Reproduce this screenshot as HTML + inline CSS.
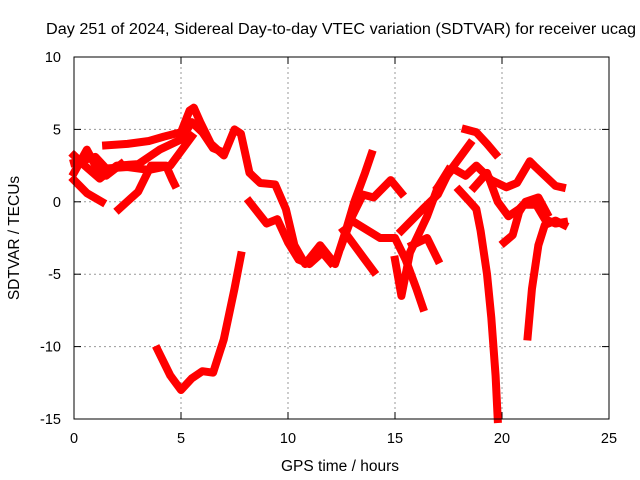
<!DOCTYPE html>
<html><head><meta charset="utf-8"><style>
body{margin:0;background:#fff}
svg{display:block;font-family:"Liberation Sans",sans-serif}
</style></head><body>
<svg id="chart" width="640" height="480" viewBox="0 0 640 480">
<rect width="640" height="480" fill="#fff"/>
<text x="46" y="34" font-size="15.5" textLength="590" lengthAdjust="spacingAndGlyphs" fill="#000">Day 251 of 2024, Sidereal Day-to-day VTEC variation (SDTVAR) for receiver ucag</text>
<text x="340" y="471" font-size="15.5" text-anchor="middle">GPS time / hours</text>
<text transform="translate(19,238) rotate(-90)" font-size="15.5" text-anchor="middle">SDTVAR / TECUs</text>
<g id="grid"></g><g id="ticks"></g><g id="series"></g>
<rect x="74" y="57" width="535" height="362" fill="none" stroke="#000" stroke-width="1"/>
</svg>
<script>
const xTicks=[0,5,10,15,20,25];
const yTicks=[10,5,0,-5,-10,-15];
const trackA=[[1.5,3.9],[2.5,4],[3.5,4.2],[4.2,4.5],[5,4.8],[5.4,6.3],[5.6,6.5],[5.9,5.5],[6.4,4],[7,3.2],[7.5,5],[7.8,4.7],[8.2,2],[8.7,1.3],[9.4,1.2],[9.9,-0.5],[10.3,-3],[10.8,-4.3],[11.5,-3],[12.2,-4.3],[12.7,-2],[13.1,0],[13.6,2],[13.9,3.3]];
const trackB=[[0,3.2],[0.5,2.5],[1.2,1.6],[2,2.5],[3,2.6],[4,3.6],[5,4.3],[5.5,5.5],[6,4.8],[6.5,3.7],[7,3.4]];
const trackC=[[0,2.7],[1,3.1],[1.5,2.3],[2.5,2.4],[3.5,2.2],[4.5,2.5],[5,3.5],[5.5,4.5]];
const trackD=[[0,1.5],[0.6,0.6],[1.3,0]];
const trackE=[[2.1,-0.5],[3,0.7],[3.6,2.5],[4.3,2.5],[4.6,1.5],[4.7,1.2]];
const trackF=[[0,2],[0.6,3.6],[1,2.5],[1.5,1.8],[2.2,2.6]];
const trackG=[[3.9,-10.2],[4.5,-12],[5,-13],[5.5,-12.2],[6,-11.7],[6.5,-11.8],[7,-9.5],[7.5,-6],[7.8,-3.7]];
const trackH=[[8.2,0],[9,-1.5],[9.5,-1.2],[10,-2.8],[10.5,-4],[11,-4.3],[11.6,-3.5],[12,-4.2]];
const trackI=[[12.5,-3],[13,-1],[13.5,0.5],[14,0.3],[14.8,1.5],[15.3,0.6]];
const trackJ=[[12.6,-2],[13.5,-3.8],[14,-4.8]];
const trackK=[[13.2,-1.5],[14.3,-2.5],[15,-2.5],[15.5,-4],[16,-6],[16.3,-7.3]];
const trackL=[[15,-4],[15.3,-6.5],[15.7,-3.5],[16.5,-1],[17,1],[17.5,2.2]];
const trackM=[[15.8,-3],[16.5,-2.5],[17,-4]];
const trackN=[[15.3,-2],[16.3,-0.5],[17,0.5],[17.5,2],[18,3],[18.5,4]];
const trackO=[[18.3,5],[18.8,4.8],[19.3,4],[19.7,3.3]];
const trackP=[[17,1],[17.7,2.3],[18.3,1.8],[18.8,2.5],[19.5,1.5],[20.2,1],[20.7,1.3],[21.3,2.8],[21.5,2.5],[22,1.8],[22.5,1.1],[22.8,1]];
const trackQ=[[18,0.8],[18.5,0],[18.8,-0.5],[19,-2],[19.3,-5],[19.5,-8],[19.7,-12],[19.8,-15]];
const trackR=[[18.7,1],[19.3,2],[19.8,0],[20.3,-1],[20.8,-0.5],[21,-0.2],[21.6,-0.2],[22,-1.2],[22.5,-1.5],[22.9,-1.4]];
const trackS=[[20.1,-2.8],[20.5,-2.3],[20.8,-0.7],[21.1,0],[21.7,0.3],[22.1,-0.8]];
const trackT=[[21.2,-9.3],[21.4,-6],[21.7,-3],[22,-1.6],[22.5,-1.3],[22.9,-1.6]];
const tracks=[trackA,trackB,trackC,trackD,trackE,trackF,trackG,trackH,trackI,trackJ,trackK,trackL,trackM,trackN,trackO,trackP,trackQ,trackR,trackS,trackT];
const NS='http://www.w3.org/2000/svg';
const X=t=>74+t*(535/25);
const Y=v=>419-(v+15)*(362/25);
const grid=document.getElementById('grid'),ticks=document.getElementById('ticks'),ser=document.getElementById('series');
function mk(tag,attrs,parent){const e=document.createElementNS(NS,tag);for(const k in attrs)e.setAttribute(k,attrs[k]);parent.appendChild(e);return e;}
xTicks.forEach(t=>{
 if(t>0&&t<25){const g=mk('line',{x1:X(t),x2:X(t),y1:57,y2:419,stroke:'#999','stroke-dasharray':'2,3'},grid);
 
 }
 mk('line',{x1:X(t),x2:X(t),y1:419,y2:412,stroke:'#000'},ticks);
 mk('line',{x1:X(t),x2:X(t),y1:57,y2:64,stroke:'#000'},ticks);
 const l=mk('text',{x:X(t),y:443,'font-size':14.5,'text-anchor':'middle'},ticks);l.textContent=t;
 
 
});
yTicks.forEach(v=>{
 if(v>-15&&v<10){const g=mk('line',{x1:74,x2:609,y1:Y(v),y2:Y(v),stroke:'#999','stroke-dasharray':'2,3'},grid);
 
 }
 mk('line',{x1:74,x2:81,y1:Y(v),y2:Y(v),stroke:'#000'},ticks);
 mk('line',{x1:602,x2:609,y1:Y(v),y2:Y(v),stroke:'#000'},ticks);
 const l=mk('text',{x:61,y:Y(v)+5,'font-size':14.5,'text-anchor':'end'},ticks);l.textContent=v;
 
 
});
tracks.forEach((tr,i)=>{
 const p=mk('polyline',{points:tr.map(d=>X(d[0])+','+Y(d[1])).join(' '),fill:'none',stroke:'#ff0000','stroke-width':8,'stroke-linejoin':'round','stroke-linecap':'square'},ser);
 
 
});
</script>
</body></html>
